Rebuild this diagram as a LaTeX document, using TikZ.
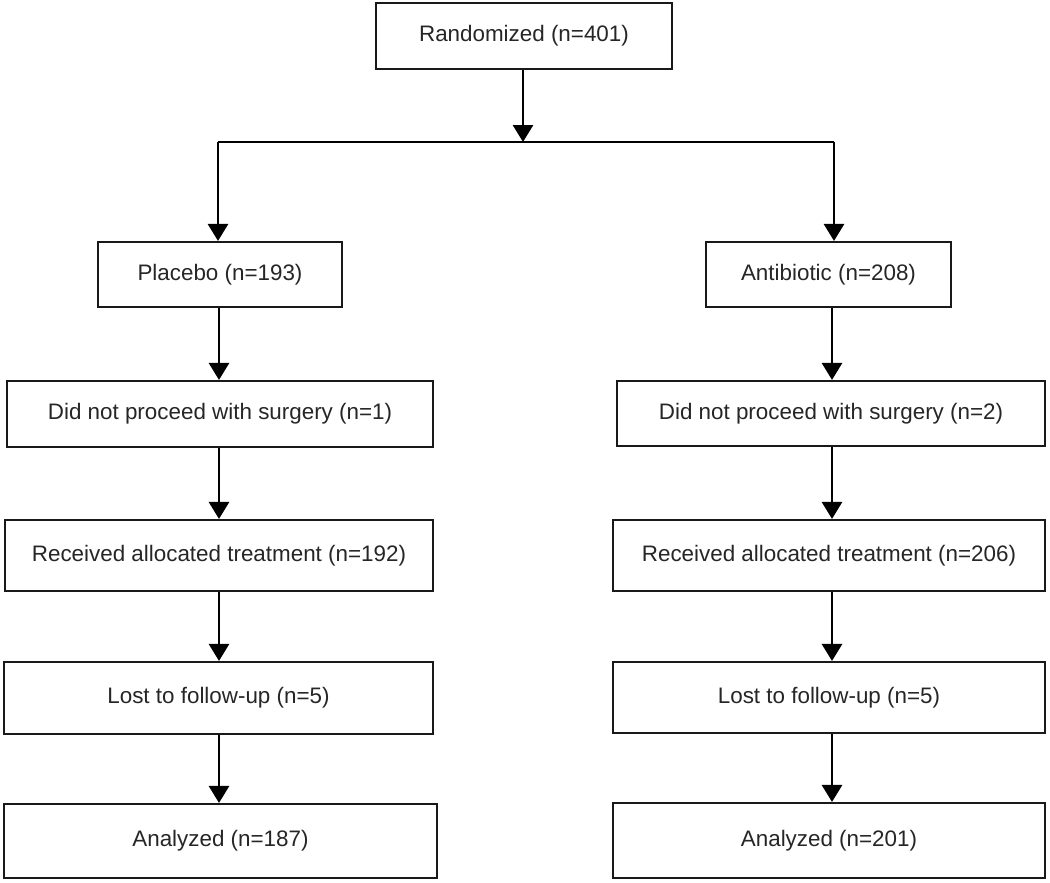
\documentclass[tikz,border=0pt]{standalone}
\usepackage{fontspec}
\setmainfont{Liberation Sans}
\usetikzlibrary{arrows.meta}
\begin{document}
\begin{tikzpicture}[x=1pt,y=-1pt,
  box/.style={draw=black!90, line width=2.1pt, rectangle, inner sep=0pt,
    text=black!85, font=\fontsize{22.4}{26}\selectfont},
  arr/.style={line width=2.8pt, black, -{Triangle[width=20pt,length=17pt]}},
  ln/.style={line width=2.8pt, black}]
\useasboundingbox (0,0) rectangle (1050,883);
\fill[white] (0,0) rectangle (1050,883);
\node[box, minimum width=296pt, minimum height=66pt] (top) at (524,36) {Randomized (n=401)};
\node[box, minimum width=244pt, minimum height=65pt] (plac) at (220,274.5) {Placebo (n=193)};
\node[box, minimum width=245pt, minimum height=65pt] (anti) at (828.5,274.5) {Antibiotic (n=208)};
\node[box, minimum width=426pt, minimum height=66pt] (l1) at (220,414) {Did not proceed with surgery (n=1)};
\node[box, minimum width=428pt, minimum height=65pt] (r1) at (831,413.5) {Did not proceed with surgery (n=2)};
\node[box, minimum width=428pt, minimum height=71pt] (l2) at (219,555.5) {Received allocated treatment (n=192)};
\node[box, minimum width=432pt, minimum height=71pt] (r2) at (829,555.5) {Received allocated treatment (n=206)};
\node[box, minimum width=429pt, minimum height=72pt] (l3) at (218.5,698) {Lost to follow-up (n=5)};
\node[box, minimum width=432pt, minimum height=71pt] (r3) at (829,697.5) {Lost to follow-up (n=5)};
\node[box, minimum width=433pt, minimum height=74pt] (l4) at (220.5,841) {Analyzed (n=187)};
\node[box, minimum width=432pt, minimum height=75pt] (r4) at (829,840.5) {Analyzed (n=201)};
\coordinate (split) at (523,142);
\coordinate (jl) at (218,142);
\coordinate (jr) at (834,142);
\coordinate (lx) at (219,0);
\coordinate (rx) at (832,0);
\draw[arr] (top.south -| split) -- (split);
\draw[ln] (jl) -- (jr);
\draw[arr] (jl) -- (jl |- plac.north);
\draw[arr] (jr) -- (jr |- anti.north);
\draw[arr] (lx |- plac.south) -- (lx |- l1.north);
\draw[arr] (lx |- l1.south) -- (lx |- l2.north);
\draw[arr] (lx |- l2.south) -- (lx |- l3.north);
\draw[arr] (lx |- l3.south) -- (lx |- l4.north);
\draw[arr] (rx |- anti.south) -- (rx |- r1.north);
\draw[arr] (rx |- r1.south) -- (rx |- r2.north);
\draw[arr] (rx |- r2.south) -- (rx |- r3.north);
\draw[arr] (rx |- r3.south) -- (rx |- r4.north);
\end{tikzpicture}
\end{document}
